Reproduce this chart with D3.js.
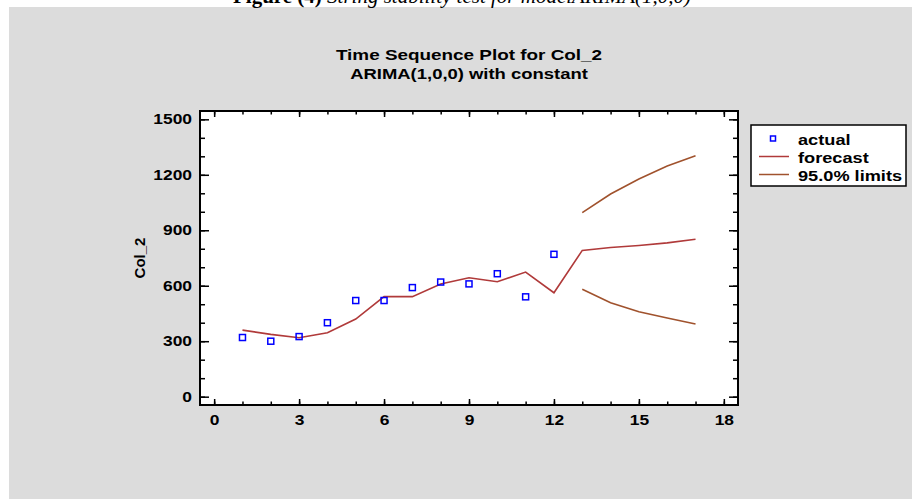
<!DOCTYPE html>
<html>
<head>
<meta charset="utf-8">
<script src="https://cdn.jsdelivr.net/npm/d3@7"></script>
<style>
  body { margin: 0; background: #ffffff; }
  text { font-family: "Liberation Sans", Arial, sans-serif; font-weight: bold; fill: #000; }
</style>
</head>
<body>
<div id="chart-container"></div>
<script>
// data
var actualTime = [1, 2, 3, 4, 5, 6, 7, 8, 9, 10, 11, 12];
var actual = [320, 300, 325, 400, 520, 520, 590, 620, 610, 665, 540, 770];

var forecastTime = [1, 2, 3, 4, 5, 6, 7, 8, 9, 10, 11, 12, 13, 14, 15, 16, 17];
var forecast = [360, 337, 319, 346, 420, 541, 541, 609, 643, 622, 674, 562, 791, 807, 818, 832, 851];

var limitTime = [13, 14, 15, 16, 17];
var upperLimit = [995, 1096, 1177, 1247, 1303];
var lowerLimit = [581, 508, 459, 425, 393];

var xTicks = [0, 3, 6, 9, 12, 15, 18];
var yTicks = [0, 300, 600, 900, 1200, 1500];

var legendLabels = ["actual", "forecast", "95.0% limits"];

var W = 912, H = 499;

var svg = d3.select("#chart-container")
  .append("svg")
  .attr("width", W)
  .attr("height", H);

// grey panel
svg.append("rect")
  .attr("x", 9).attr("y", 7)
  .attr("width", W - 9).attr("height", H - 7)
  .style("fill", "#dcdcdc");

// caption from the page above, mostly cut off (as in the original)
var cap = svg.append("text")
  .attr("x", 462).attr("y", 3)
  .style("text-anchor", "middle")
  .style("font-family", "'Liberation Serif', 'Times New Roman', serif")
  .style("font-size", "21px")
  .style("font-weight", "normal");
cap.append("tspan").style("font-weight", "bold").text("Figure (4) ");
cap.append("tspan").style("font-style", "italic").text("String stability test for modelARIMA(1,0,0)");

var margin = { left: 200, top: 111, right: 738, bottom: 405 };

var xScale = d3.scaleLinear().domain([-0.5, 18.5]).range([margin.left, margin.right]);
var yScale = d3.scaleLinear().domain([-45, 1545]).range([margin.bottom, margin.top]);

// plot background
svg.append("rect")
  .attr("x", margin.left).attr("y", margin.top)
  .attr("width", margin.right - margin.left)
  .attr("height", margin.bottom - margin.top)
  .style("fill", "#ffffff");

// statgraphics text is wider than plain arial, so stretch it a bit
function wideText(g, x, y, str, size, anchor, scale) {
  return g.append("text")
    .attr("transform", "translate(" + x + "," + y + ") scale(" + scale + ",1)")
    .style("text-anchor", anchor)
    .style("font-size", size + "px")
    .text(str);
}
var cx = (margin.left + margin.right) / 2;
wideText(svg, cx, 60, "Time Sequence Plot for Col_2", 15, "middle", 1.26);
wideText(svg, cx, 79, "ARIMA(1,0,0) with constant", 15, "middle", 1.23);

// y label
svg.append("text")
  .attr("transform", "translate(145," + ((margin.top + margin.bottom) / 2) + ") rotate(-90)")
  .style("text-anchor", "middle")
  .style("font-size", "15px")
  .text("Col_2");

// ticks, all pointing inward on the four sides
function addAxis(axis, tx, ty) {
  var g = svg.append("g")
    .attr("transform", "translate(" + tx + "," + ty + ")")
    .call(axis);
  g.select(".domain").remove();
  g.selectAll("line").style("stroke", "#000").style("stroke-width", 1.5);
  return g;
}

var minorX = d3.range(0, 19);
var minorY = d3.range(0, 1501, 100);

addAxis(d3.axisBottom(xScale).tickValues(minorX).tickSize(-3.5).tickFormat(""), 0, margin.bottom);
addAxis(d3.axisTop(xScale).tickValues(minorX).tickSize(-3.5).tickFormat(""), 0, margin.top);
addAxis(d3.axisLeft(yScale).tickValues(minorY).tickSize(-5).tickFormat(""), margin.left, 0);
addAxis(d3.axisRight(yScale).tickValues(minorY).tickSize(-5).tickFormat(""), margin.right, 0);

var xAxisG = addAxis(d3.axisBottom(xScale).tickValues(xTicks).tickSize(-6).tickPadding(10).tickFormat(d3.format("d")), 0, margin.bottom);
addAxis(d3.axisTop(xScale).tickValues(xTicks).tickSize(-6).tickFormat(""), 0, margin.top);
var yAxisG = addAxis(d3.axisLeft(yScale).tickValues(yTicks).tickSize(-9).tickPadding(8).tickFormat(d3.format("d")), margin.left, 0);
addAxis(d3.axisRight(yScale).tickValues(yTicks).tickSize(-9).tickFormat(""), margin.right, 0);

xAxisG.selectAll("text")
  .style("font-size", "14.5px")
  .style("font-family", "'Liberation Sans', Arial, sans-serif")
  .attr("transform", "scale(1.2,1)");
yAxisG.selectAll("text")
  .style("font-size", "14.5px")
  .style("font-family", "'Liberation Sans', Arial, sans-serif")
  .attr("x", -8 / 1.2)
  .attr("transform", "scale(1.2,1)");

// frame
svg.append("rect")
  .attr("x", margin.left).attr("y", margin.top)
  .attr("width", margin.right - margin.left)
  .attr("height", margin.bottom - margin.top)
  .style("fill", "none")
  .style("stroke", "#000")
  .style("stroke-width", 2);

// lines
var forecastColor = "#b03a3a";
var limitColor = "#a0522d";

var line = d3.line()
  .x(function (d) { return xScale(d[0]); })
  .y(function (d) { return yScale(d[1]); });

function drawLine(ts, vs, color) {
  svg.append("path")
    .datum(d3.zip(ts, vs))
    .attr("d", line)
    .style("fill", "none")
    .style("stroke", color)
    .style("stroke-width", 1.6);
}
drawLine(forecastTime, forecast, forecastColor);
drawLine(limitTime, upperLimit, limitColor);
drawLine(limitTime, lowerLimit, limitColor);

// actual points
svg.selectAll(".pt")
  .data(d3.zip(actualTime, actual))
  .enter().append("rect")
  .attr("class", "pt")
  .attr("x", function (d) { return xScale(d[0]) - 3; })
  .attr("y", function (d) { return yScale(d[1]) - 3; })
  .attr("width", 6).attr("height", 6)
  .style("fill", "none")
  .style("stroke", "#0000ff")
  .style("stroke-width", 1.5);

// legend
var lg = svg.append("g");
lg.append("rect")
  .attr("x", 751).attr("y", 125)
  .attr("width", 155).attr("height", 61)
  .style("fill", "#ffffff")
  .style("stroke", "#000")
  .style("stroke-width", 1.5);

var rowY = [138.5, 156.5, 174.5];
lg.append("rect")
  .attr("x", 770.5).attr("y", rowY[0] - 2.5)
  .attr("width", 5).attr("height", 5)
  .style("fill", "none").style("stroke", "#0000ff").style("stroke-width", 1.5);
lg.append("line")
  .attr("x1", 759).attr("x2", 789).attr("y1", rowY[1]).attr("y2", rowY[1])
  .style("stroke", forecastColor).style("stroke-width", 1.5);
lg.append("line")
  .attr("x1", 759).attr("x2", 789).attr("y1", rowY[2]).attr("y2", rowY[2])
  .style("stroke", limitColor).style("stroke-width", 1.5);

legendLabels.forEach(function (s, i) {
  wideText(lg, 798, rowY[i] + 6, s, 14, "start", 1.3);
});
</script>
</body>
</html>
